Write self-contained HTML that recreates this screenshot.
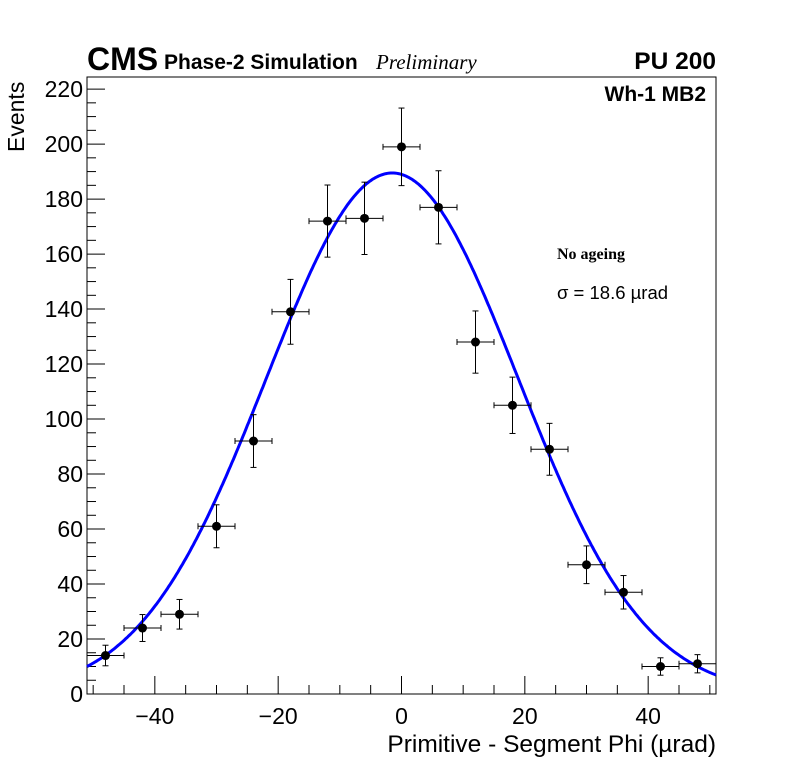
<!DOCTYPE html>
<html><head><meta charset="utf-8"><style>
body{margin:0;background:#fff}
svg text{font-family:"Liberation Sans",sans-serif}
</style></head><body>
<svg id="c" width="796" height="772" xmlns="http://www.w3.org/2000/svg">
<text x="87" y="70" font-size="32" font-weight="bold">CMS</text>
<text x="164" y="69" font-size="21" font-weight="bold">Phase-2 Simulation</text>
<text x="376" y="69" font-size="21" font-style="italic" style="font-family:'Liberation Serif',serif">Preliminary</text>
<text x="716" y="69" font-size="24.5" font-weight="bold" text-anchor="end">PU 200</text>
<text x="706" y="101" font-size="21" font-weight="bold" text-anchor="end">Wh-1 MB2</text>
<text x="557" y="259" font-size="16" font-weight="bold" style="font-family:'Liberation Serif',serif">No ageing</text>
<text x="557" y="299" font-size="18.5">σ = 18.6  µrad</text>
<text x="716" y="752" font-size="24.5" text-anchor="end">Primitive - Segment Phi (µrad)</text>
<text transform="translate(24,152) rotate(-90)" font-size="23">Events</text>
<g id="axes"></g><g id="marks"></g>
</svg>
<script>
const binCenters=[-48,-42,-36,-30,-24,-18,-12,-6,0,6,12,18,24,30,36,42,48];
const counts=[14,24,29,61,92,139,172,173,199,177,128,105,89,47,37,10,11];
const fitParams=[189.5,-1.5,20.4];
const xTicks=[-40,-20,0,20,40];
const yTicks=[0,20,40,60,80,100,120,140,160,180,200,220];
const X0=87,X1=716,Y0=694,Y1=77,xmin=-51,xmax=51,ymin=0,ymax=224.4;
const sx=v=>X0+(v-xmin)/(xmax-xmin)*(X1-X0);
const sy=v=>Y0-(v-ymin)/(ymax-ymin)*(Y0-Y1);
const NS='http://www.w3.org/2000/svg';
function mk(t,p,a){const e=document.createElementNS(NS,t);for(const k in a)e.setAttribute(k,a[k]);p.appendChild(e);return e;}
const ax=document.getElementById('axes'),mg=document.getElementById('marks');
const fr=mk('rect',ax,{x:X0,y:Y1,width:X1-X0,height:Y0-Y1,fill:'none',stroke:'#000','stroke-width':1});


for(let v=-50;v<=50;v+=5){const maj=v%20===0;mk('line',ax,{x1:sx(v),x2:sx(v),y1:Y0,y2:Y0-(maj?18:9),stroke:'#000'});}
for(let v=0;v<=220;v+=5){const maj=v%20===0;mk('line',ax,{x1:X0,x2:X0+(maj?18:9),y1:sy(v),y2:sy(v),stroke:'#000'});}
xTicks.forEach(v=>{const t=mk('text',ax,{x:sx(v),y:724,'font-size':23,'text-anchor':'middle'});t.textContent=(v<0?'\u2212'+(-v):v);

});
yTicks.forEach(v=>{const t=mk('text',ax,{x:X0-4,y:sy(v)+8,'font-size':23,'text-anchor':'end'});t.textContent=v;

});
const [A,mu,sg]=fitParams;let d='';
for(let x=xmin;x<=xmax;x+=0.25){const y=A*Math.exp(-((x-mu)**2)/(2*sg*sg));d+=(d?'L':'M')+sx(x).toFixed(1)+','+sy(y).toFixed(1);}
const fp=mk('path',mg,{d:d,fill:'none',stroke:'#0000ff','stroke-width':3});


binCenters.forEach((c,i)=>{const n=counts[i],e=Math.sqrt(n);const g=mk('g',mg,{});


const x=sx(c),y=sy(n);
mk('line',g,{x1:sx(c-3),x2:sx(c+3),y1:y,y2:y,stroke:'#000'});
mk('line',g,{x1:x,x2:x,y1:sy(n+e),y2:sy(Math.max(0,n-e)),stroke:'#000'});
[sx(c-3),sx(c+3)].forEach(xx=>mk('line',g,{x1:xx,x2:xx,y1:y-3,y2:y+3,stroke:'#000'}));
[sy(n+e),sy(n-e)].forEach(yy=>mk('line',g,{x1:x-3,x2:x+3,y1:yy,y2:yy,stroke:'#000'}));
mk('circle',g,{cx:x,cy:y,r:4.5,fill:'#000'});});
</script>
</body></html>
